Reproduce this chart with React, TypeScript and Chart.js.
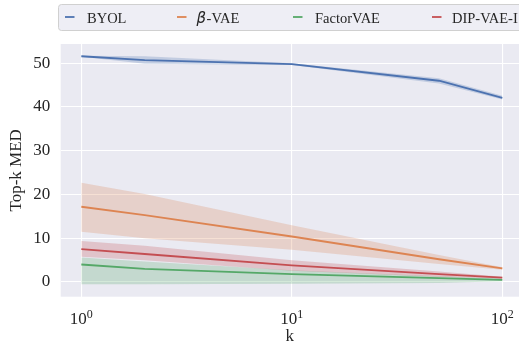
import React, { useEffect, useRef } from "react";
import { Chart, registerables } from "chart.js";

Chart.register(...registerables);

const K = [1, 2, 10, 50, 100];

const BYOL_MEAN = [51.6, 50.7, 49.8, 46.0, 42.1];
const BYOL_UP = [51.7, 51.6, 50.0, 46.6, 42.6];
const BYOL_LO = [51.5, 49.9, 49.6, 45.4, 41.7];

const BVAE_MEAN = [17.2, 15.3, 10.4, 5.2, 3.1];
const BVAE_UP = [22.7, 20.1, 13.0, 6.2, 3.4];
const BVAE_LO = [11.5, 10.0, 7.4, 4.1, 2.8];

const FVAE_MEAN = [4.0, 3.0, 1.8, 0.9, 0.5];
const FVAE_UP = [5.6, 4.7, 2.7, 1.3, 0.8];
const FVAE_LO = [-0.5, -0.5, -0.4, -0.2, 0.2];

const DIP_MEAN = [7.5, 6.4, 3.8, 1.8, 1.0];
const DIP_UP = [9.4, 8.3, 5.0, 2.4, 1.2];
const DIP_LO = [5.8, 5.0, 2.6, 1.2, 0.8];

const SERIES_NAMES = ["BYOL", "β-VAE", "FactorVAE", "DIP-VAE-I"];
const SERIES_COLORS = ["#4c72b0", "#dd8452", "#55a868", "#c44e52"];
const SERIES_RGB = ["76,114,176", "221,132,82", "85,168,104", "196,78,82"];

const X_TICKS = [1, 10, 100];
const X_TICK_EXP = ["0", "1", "2"];
const Y_TICKS = [0, 10, 20, 30, 40, 50];

const SERIF = '"Liberation Serif", "Times New Roman", serif';
const TEXT = "#262626";

const pts = (ys: number[]) => K.map((k, i) => ({ x: k, y: ys[i] }));

const LEGEND_HANDLE_X = [65, 177, 293, 432];
const LEGEND_TEXT_X = [87, 196.5, 315, 452];

const bgPlugin = {
  id: "bg",
  beforeDraw(chart: any) {
    const { ctx, chartArea } = chart;
    ctx.save();
    ctx.fillStyle = "#ffffff";
    ctx.fillRect(0, 0, chart.width, chart.height);
    ctx.fillStyle = "#eaeaf2";
    ctx.fillRect(chartArea.left, chartArea.top, chartArea.right - chartArea.left, chartArea.bottom - chartArea.top);
    ctx.restore();
  },
};

const overlayPlugin = {
  id: "overlay",
  afterDraw(chart: any) {
    const { ctx } = chart;
    const xs = chart.scales.x;
    ctx.save();
    // x tick labels with superscripts
    X_TICKS.forEach((v, i) => {
      const px = xs.getPixelForValue(v);
      ctx.font = `17px ${SERIF}`;
      const w1 = ctx.measureText("10").width;
      ctx.font = `12px ${SERIF}`;
      const w2 = ctx.measureText(X_TICK_EXP[i]).width;
      const start = px - (w1 + w2) / 2;
      ctx.fillStyle = TEXT;
      ctx.textBaseline = "alphabetic";
      ctx.textAlign = "left";
      ctx.font = `17px ${SERIF}`;
      ctx.fillText("10", start, 324);
      ctx.font = `12px ${SERIF}`;
      ctx.fillText(X_TICK_EXP[i], start + w1, 318);
    });

    // legend
    const bx = 58.5, by = 4.5, bw = 500, bh = 26;
    const r = 3;
    ctx.beginPath();
    ctx.moveTo(bx + r, by);
    ctx.lineTo(bx + bw - r, by);
    ctx.arcTo(bx + bw, by, bx + bw, by + r, r);
    ctx.lineTo(bx + bw, by + bh - r);
    ctx.arcTo(bx + bw, by + bh, bx + bw - r, by + bh, r);
    ctx.lineTo(bx + r, by + bh);
    ctx.arcTo(bx, by + bh, bx, by + bh - r, r);
    ctx.lineTo(bx, by + r);
    ctx.arcTo(bx, by, bx + r, by, r);
    ctx.closePath();
    ctx.fillStyle = "rgba(234,234,242,0.8)";
    ctx.fill();
    ctx.strokeStyle = "#d0d0d0";
    ctx.lineWidth = 1;
    ctx.stroke();

    SERIES_NAMES.forEach((name, i) => {
      ctx.strokeStyle = SERIES_COLORS[i];
      ctx.lineWidth = 1.8;
      ctx.beginPath();
      ctx.moveTo(LEGEND_HANDLE_X[i], 17);
      ctx.lineTo(LEGEND_HANDLE_X[i] + 9.5, 17);
      ctx.stroke();
      ctx.fillStyle = TEXT;
      ctx.textAlign = "left";
      ctx.textBaseline = "alphabetic";
      let x = LEGEND_TEXT_X[i];
      if (name.startsWith("β")) {
        ctx.font = `italic 15px "DejaVu Sans", sans-serif`;
        ctx.fillText("β", x, 22.5);
        x += ctx.measureText("β").width + 0.5;
        ctx.font = `14.5px ${SERIF}`;
        ctx.fillText(name.slice(1), x, 22.5);
      } else {
        ctx.font = `14.5px ${SERIF}`;
        ctx.fillText(name, x, 22.5);
      }
    });
    ctx.restore();
  },
};

function band(up: number[], lo: number[], i: number, order: number) {
  return [
    {
      data: pts(up),
      borderWidth: 0,
      pointRadius: 0,
      borderColor: "transparent",
      backgroundColor: `rgba(${SERIES_RGB[i]},0.25)`,
      fill: "+1",
      order,
    },
    {
      data: pts(lo),
      borderWidth: 0,
      pointRadius: 0,
      borderColor: "transparent",
      fill: false,
      order,
    },
  ];
}

function line(ys: number[], i: number, order: number) {
  return {
    label: SERIES_NAMES[i],
    data: pts(ys),
    borderColor: SERIES_COLORS[i],
    borderWidth: 1.8,
    pointRadius: 0,
    fill: false,
    order,
  };
}

export default function App() {
  const ref = useRef<HTMLCanvasElement>(null);
  useEffect(() => {
    document.body.style.margin = "0";
    const chart = new Chart(ref.current!, {
      type: "line",
      data: {
        datasets: [
          ...band(BYOL_UP, BYOL_LO, 0, 40),
          line(BYOL_MEAN, 0, 39),
          ...band(BVAE_UP, BVAE_LO, 1, 30),
          line(BVAE_MEAN, 1, 29),
          ...band(FVAE_UP, FVAE_LO, 2, 20),
          line(FVAE_MEAN, 2, 19),
          ...band(DIP_UP, DIP_LO, 3, 10),
          line(DIP_MEAN, 3, 9),
        ] as any,
      },
      options: {
        animation: false,
        responsive: false,
        devicePixelRatio: 1,
        layout: { padding: { top: 44, left: 0, right: 0, bottom: 0 } },
        plugins: { legend: { display: false }, tooltip: { enabled: false } },
        elements: { line: { tension: 0 } },
        scales: {
          x: {
            type: "logarithmic",
            min: 0.798,
            max: 120,
            border: { display: false },
            grid: { color: "#ffffff", lineWidth: 1.1, drawTicks: false },
            ticks: { display: false },
            afterBuildTicks: (s: any) => {
              s.ticks = X_TICKS.map((v) => ({ value: v }));
            },
            afterFit: (s: any) => {
              s.height = 51.3;
            },
            title: {
              display: true,
              text: "k",
              color: TEXT,
              font: { family: SERIF, size: 17 },
              padding: { top: 0, bottom: 1 },
            },
          },
          y: {
            type: "linear",
            min: -3.36,
            max: 54.4,
            border: { display: false },
            grid: { color: "#ffffff", lineWidth: 1.1, drawTicks: false },
            afterBuildTicks: (s: any) => {
              s.ticks = Y_TICKS.map((v) => ({ value: v }));
            },
            afterFit: (s: any) => {
              s.width = 60.7;
            },
            ticks: {
              color: TEXT,
              font: { family: SERIF, size: 17 },
              padding: 10.5,
            },
            title: {
              display: true,
              text: "Top-k MED",
              color: TEXT,
              font: { family: SERIF, size: 17 },
              padding: { top: 6, bottom: 0 },
            },
          },
        },
      },
      plugins: [bgPlugin, overlayPlugin],
    });
    return () => chart.destroy();
  }, []);
  return (
    <div style={{ position: "fixed", left: 0, top: 0, width: 519, height: 348 }}>
      <canvas ref={ref} width={519} height={348} style={{ width: 519, height: 348 }} />
    </div>
  );
}
